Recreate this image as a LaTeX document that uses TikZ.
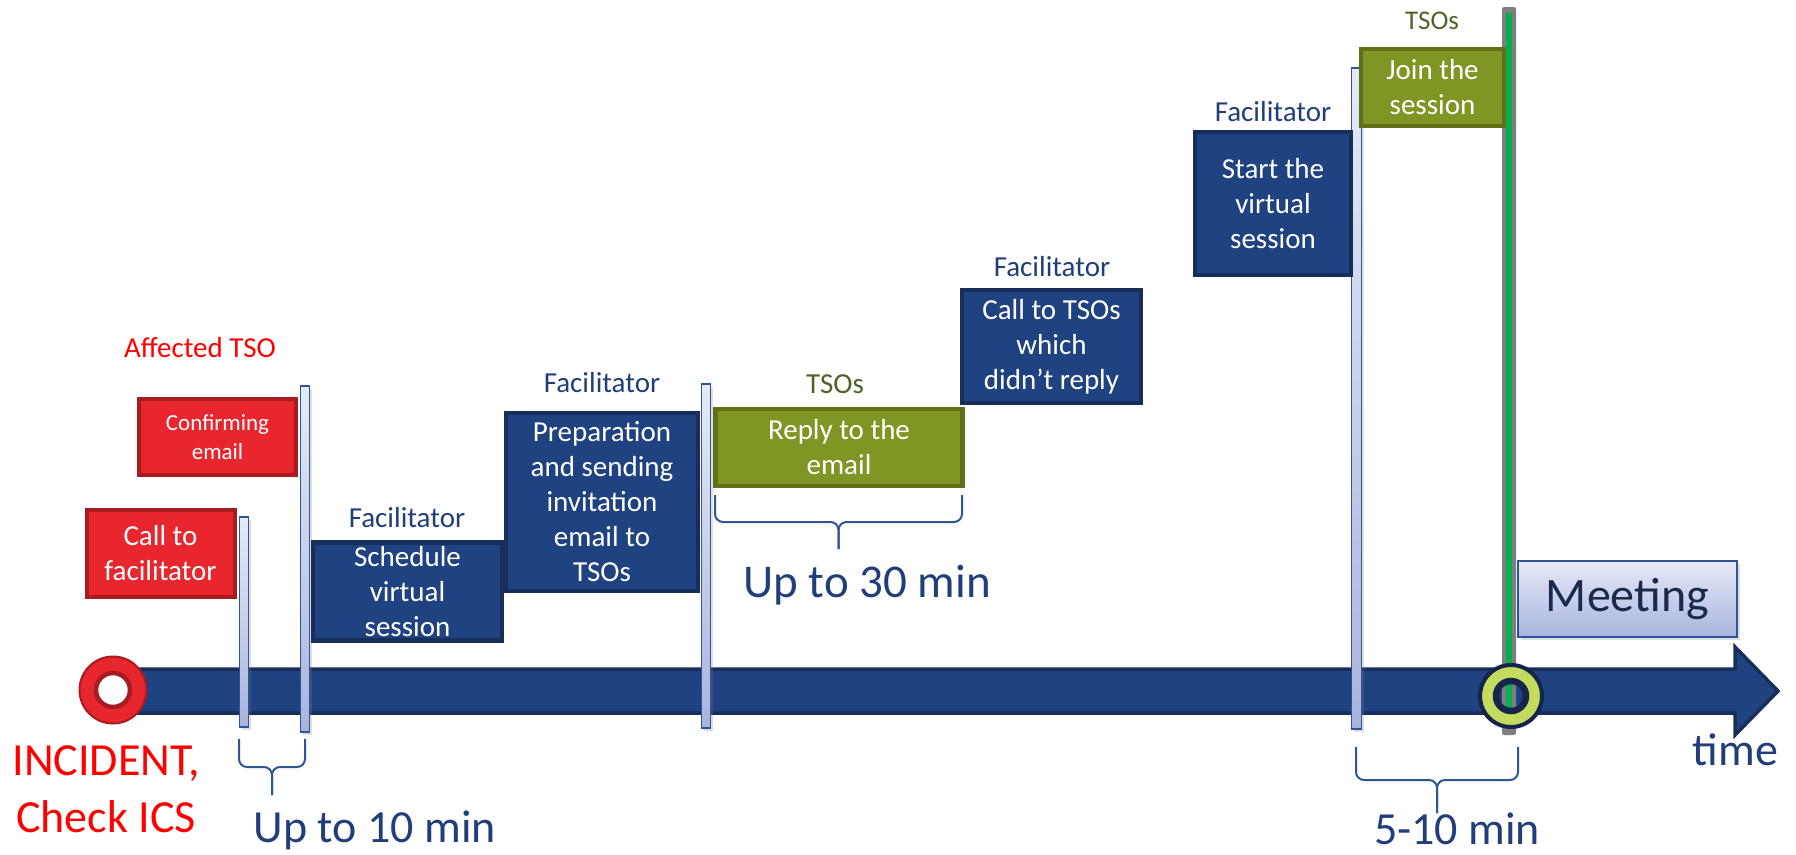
\documentclass[tikz,border=0pt]{standalone}
\usepackage{fontspec}
\setmainfont{Carlito}
\usetikzlibrary{shadows}

\definecolor{navy}{HTML}{1F4380}
\definecolor{navyline}{HTML}{172E5A}
\definecolor{redfill}{HTML}{E8262D}
\definecolor{redline}{HTML}{A81B21}
\definecolor{redlabel}{HTML}{FF0000}
\definecolor{olivefill}{HTML}{7F9624}
\definecolor{oliveline}{HTML}{5F7019}
\definecolor{labelblue}{HTML}{203E7A}
\definecolor{tsogreen}{HTML}{4F6228}
\definecolor{barline}{HTML}{2F5597}
\definecolor{bartop}{HTML}{E6EAF6}
\definecolor{barbot}{HTML}{A8B4DE}
\definecolor{ringgreen}{HTML}{C5DB5E}
\definecolor{ringdark}{HTML}{14244A}
\definecolor{meettext}{HTML}{1B2A4A}
\definecolor{msgreen}{HTML}{00B050}
\definecolor{greybar}{HTML}{7F7F7F}

\tikzset{
  task/.style={draw, line width=4.5pt, text=white, align=center, inner sep=0pt,
    font=\fontsize{29}{35}\selectfont},
  bluetask/.style={task, fill=navy, draw=navyline},
  redtask/.style={task, fill=redfill, draw=redline, line width=4pt},
  greentask/.style={task, fill=olivefill, draw=oliveline},
  role/.style={anchor=base, inner sep=0pt, font=\fontsize{29}{35}\selectfont},
  pole/.style={draw=barline, line width=1.8pt, top color=bartop, bottom color=barbot,
    inner sep=0pt, minimum width=9,
    drop shadow={opacity=0.25, shadow xshift=2pt, shadow yshift=-3pt}},
  bigtext/.style={anchor=base, inner sep=0pt, font=\fontsize{46}{57}\selectfont},
  bracestyle/.style={draw=barline, line width=2pt, rounded corners=8pt},
}

\begin{document}
\begin{tikzpicture}[x=1pt, y=-1pt]
\useasboundingbox (0,0) rectangle (1796,854);

% timeline arrow
\draw[draw=navyline, fill=navy, line width=3.5pt, line join=miter]
  (113,669) -- (1735,669) -- (1735,647) -- (1778,691) -- (1735,735) -- (1735,713) -- (113,713) -- cycle;

% poles
\node[pole, minimum height=210] (p1) at (244,622) {};
\node[pole, minimum height=346] (p2) at (305,559) {};
\node[pole, minimum height=344] (p3) at (706,556) {};
\node[pole, minimum width=10, minimum height=661] (p4) at (1356.5,398.5) {};

% end bar
\fill[greybar, rounded corners=2pt] (1502,7) rectangle (1516,735);
\fill[msgreen] (1506,13) rectangle (1512,708);

% start circle
\node[circle, fill=redfill, draw=redline, line width=2pt, minimum size=67, inner sep=0pt] (inc) at (113,690) {};
\node[circle, fill=white, draw=redline, line width=4.5pt, minimum size=34, inner sep=0pt] (incin) at (inc.center) {};

% end circle
\coordinate (endpt) at (1511,696);
\fill[ringgreen, even odd rule] (endpt) circle[radius=31] circle[radius=16];
\draw[ringdark, line width=4pt] (endpt) circle[radius=31];
\draw[ringdark, line width=6.5pt] (endpt) circle[radius=15];

% tasks
\node[redtask, minimum width=148, minimum height=87] (call) at (160.5,553.5) {Call to\\facilitator};
\node[redtask, minimum width=157, minimum height=76, font=\fontsize{23}{29}\selectfont] (confirm) at (217.5,437) {Confirming\\email};
\node[bluetask, minimum width=189, minimum height=98] (schedule) at (407.5,591.5) {Schedule\\virtual\\session};
\node[bluetask, minimum width=192, minimum height=178] (prep) at (602,502) {Preparation\\and sending\\invitation\\email to\\TSOs};
\node[greentask, minimum width=247, minimum height=77] (reply) at (839,447.5) {Reply to the\\email};
\node[bluetask, minimum width=179, minimum height=113] (calltsos) at (1051.5,346.5) {Call to TSOs\\which\\didn’t reply};
\node[bluetask, minimum width=156, minimum height=143] (start) at (1273,203.5) {Start the\\virtual\\session};
\node[greentask, minimum width=143, minimum height=77] (join) at (1432.5,87.5) {Join the\\session};

% meeting
\node[draw=barline, line width=2pt, top color=bartop, bottom color=barbot,
  minimum width=219, minimum height=76, inner sep=0pt,
  font=\fontsize{48}{58}\selectfont, text=meettext,
  drop shadow={opacity=0.25, shadow xshift=3pt, shadow yshift=-3pt}] (meet) at (1627.5,599) {Meeting};

% role labels
\node[role, text=redlabel] (lblA) at (200,357) {Affected TSO};
\node[role, text=labelblue] (lblF1) at (407,527) {Facilitator};
\node[role, text=labelblue] (lblF2) at (602,392) {Facilitator};
\node[role, text=tsogreen] (lblT1) at (835,393) {TSOs};
\node[role, text=labelblue] (lblF3) at (1052,276) {Facilitator};
\node[role, text=labelblue] (lblF4) at (1273,121) {Facilitator};
\node[role, text=tsogreen, font=\fontsize{27}{33}\selectfont] (lblT2) at (1432,29) {TSOs};

% braces
\draw[bracestyle] (239,739) -- (239,767) -- (272,767) -- (272,795);
\draw[bracestyle] (305,739) -- (305,767) -- (272,767) -- (272,795);
\draw[bracestyle] (715,495) -- (715,522) -- (838.5,522) -- (838.5,549);
\draw[bracestyle] (962,495) -- (962,522) -- (838.5,522) -- (838.5,549);
\draw[bracestyle] (1356,747) -- (1356,780) -- (1437,780) -- (1437,813);
\draw[bracestyle] (1518,747) -- (1518,780) -- (1437,780) -- (1437,813);

% big texts
\node[bigtext, text=redlabel, align=center] (incident) at (106,832) {INCIDENT,\\Check ICS};
\node[bigtext, text=labelblue] (d10) at (375,842) {Up to 10 min};
\node[bigtext, text=labelblue, font=\fontsize{47}{57}\selectfont] (d30) at (867,597) {Up to 30 min};
\node[bigtext, text=labelblue] (d5) at (1457,844) {5-10 min};
\node[bigtext, text=labelblue] (time) at (1735.5,765) {time};
\end{tikzpicture}
\end{document}
